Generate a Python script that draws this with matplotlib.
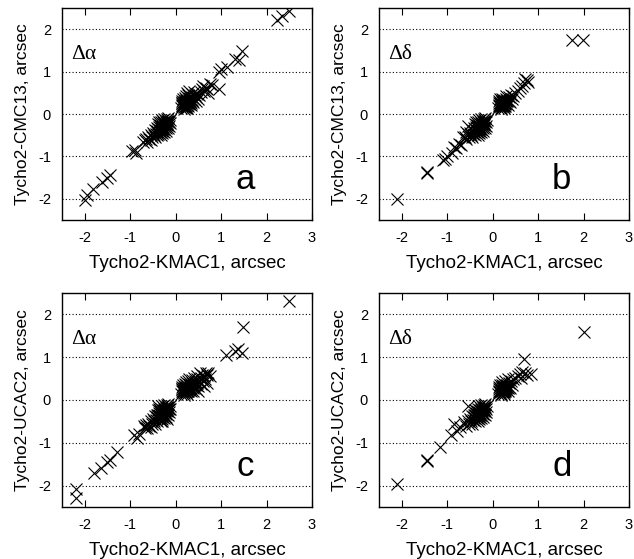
import matplotlib
matplotlib.use("Agg")
import matplotlib.pyplot as plt

# ---------------- data ----------------
# Panel a: Tycho2-KMAC1 vs Tycho2-CMC13, RA
a_pos = [(0.12,0.15),(0.15,0.22),(0.18,0.12),(0.20,0.28),(0.22,0.18),(0.24,0.25),(0.26,0.32),
         (0.28,0.20),(0.30,0.27),(0.32,0.35),(0.14,0.30),(0.17,0.35),(0.21,0.38),(0.25,0.14),
         (0.29,0.38),(0.33,0.22),(0.35,0.30),(0.37,0.40),(0.39,0.28),(0.41,0.35),(0.16,0.18),
         (0.19,0.24),(0.23,0.30),(0.27,0.26),(0.31,0.31),(0.13,0.26),(0.20,0.20),(0.26,0.22),
         (0.34,0.36),(0.22,0.42),(0.28,0.45),(0.36,0.46),(0.42,0.44),(0.45,0.40),(0.48,0.48),
         (0.52,0.44),(0.55,0.52),(0.58,0.58),(0.62,0.55),(0.66,0.62),(0.70,0.58),(0.40,0.52),
         (0.30,0.55),(0.25,0.50),(0.60,0.65),(0.75,0.70),(0.80,0.68),(0.95,0.60),(0.72,0.50),
         (0.50,0.36),(0.45,0.30),(0.17,0.21),(0.21,0.25),(0.24,0.21),(0.27,0.30),(0.23,0.34),
         (0.19,0.29),(0.15,0.25),(0.29,0.24),(0.32,0.28),(0.25,0.28),(0.18,0.17),(0.22,0.14),
         (0.14,0.20),(0.30,0.33),(0.36,0.34),(0.34,0.26)]
a_neg = [(-0.12,-0.14),(-0.15,-0.20),(-0.18,-0.12),(-0.20,-0.26),(-0.22,-0.18),(-0.24,-0.30),
         (-0.26,-0.22),(-0.28,-0.35),(-0.30,-0.28),(-0.32,-0.20),(-0.34,-0.38),(-0.36,-0.30),
         (-0.38,-0.24),(-0.40,-0.42),(-0.42,-0.34),(-0.44,-0.46),(-0.46,-0.38),(-0.48,-0.50),
         (-0.50,-0.44),(-0.14,-0.28),(-0.17,-0.34),(-0.21,-0.40),(-0.25,-0.42),(-0.29,-0.45),
         (-0.33,-0.50),(-0.19,-0.16),(-0.23,-0.24),(-0.27,-0.30),(-0.31,-0.36),(-0.35,-0.42),
         (-0.13,-0.22),(-0.16,-0.10),(-0.30,-0.15),(-0.25,-0.12),(-0.52,-0.55),(-0.55,-0.50),
         (-0.58,-0.60),(-0.60,-0.55),(-0.62,-0.65),(-0.65,-0.58),(-0.68,-0.62),(-0.72,-0.66),
         (-0.55,-0.62),(-0.45,-0.55),(-0.40,-0.50),(-0.38,-0.48),(-0.20,-0.21),(-0.24,-0.26),
         (-0.28,-0.24),(-0.32,-0.32),(-0.26,-0.36),(-0.22,-0.32),(-0.18,-0.24),(-0.34,-0.26),
         (-0.38,-0.36),(-0.30,-0.40),(-0.16,-0.16),(-0.42,-0.40),(-0.36,-0.20),(-0.28,-0.18)]
a_out = [(2.50,2.42),(2.35,2.30),(2.22,2.22),(1.45,1.48),(1.40,1.28),(1.30,1.30),(1.12,1.12),
         (1.00,1.05),(0.95,1.00),(-0.95,-0.88),(-0.90,-0.85),(-0.88,-0.92),(-2.00,-2.02),
         (-1.95,-1.92),(-1.82,-1.78),(-1.62,-1.60),(-1.52,-1.50),(-1.45,-1.45)]

# Panel b: Tycho2-KMAC1 vs Tycho2-CMC13, Dec
b_pos = [(0.12,0.15),(0.15,0.22),(0.18,0.12),(0.20,0.28),(0.22,0.18),(0.24,0.25),(0.26,0.32),
         (0.28,0.20),(0.30,0.27),(0.32,0.34),(0.14,0.30),(0.17,0.35),(0.21,0.36),(0.25,0.14),
         (0.29,0.36),(0.33,0.22),(0.35,0.30),(0.16,0.18),(0.19,0.24),(0.23,0.30),(0.27,0.26),
         (0.31,0.31),(0.13,0.26),(0.20,0.20),(0.26,0.22),(0.38,0.28),(0.36,0.40),(0.40,0.45),
         (0.45,0.42),(0.50,0.50),(0.55,0.55),(0.60,0.62),(0.65,0.65),(0.70,0.72),(0.75,0.80),
         (0.78,0.75),(0.72,0.82),(0.42,0.36),(0.30,0.42),(0.18,0.20),(0.22,0.24),(0.25,0.29),
         (0.21,0.31),(0.27,0.23),(0.16,0.27),(0.29,0.31),(0.24,0.19),(0.19,0.15),(0.14,0.18)]
b_neg = [(-0.12,-0.14),(-0.15,-0.20),(-0.18,-0.12),(-0.20,-0.26),(-0.22,-0.18),(-0.24,-0.30),
         (-0.26,-0.22),(-0.28,-0.35),(-0.30,-0.28),(-0.32,-0.20),(-0.34,-0.38),(-0.36,-0.30),
         (-0.38,-0.24),(-0.40,-0.42),(-0.42,-0.34),(-0.44,-0.46),(-0.46,-0.38),(-0.48,-0.50),
         (-0.50,-0.44),(-0.14,-0.28),(-0.17,-0.34),(-0.21,-0.40),(-0.25,-0.42),(-0.29,-0.45),
         (-0.33,-0.50),(-0.19,-0.16),(-0.23,-0.24),(-0.27,-0.30),(-0.31,-0.36),(-0.35,-0.42),
         (-0.16,-0.10),(-0.30,-0.15),(-0.25,-0.12),(-0.52,-0.55),(-0.55,-0.48),(-0.58,-0.60),
         (-0.60,-0.55),(-0.65,-0.55),(-0.70,-0.72),(-0.75,-0.70),(-0.80,-0.80),(-0.85,-0.78),
         (-0.90,-0.92),(-1.00,-1.00),(-1.05,-1.05),(-1.10,-1.08),(-0.58,-0.42),(-0.55,-0.28),
         (-0.45,-0.55),(-0.38,-0.50),(-0.20,-0.21),(-0.24,-0.26),(-0.28,-0.24),(-0.32,-0.32),
         (-0.26,-0.36),(-0.22,-0.32),(-0.18,-0.24),(-0.34,-0.26),(-0.38,-0.36),(-0.30,-0.40),
         (-0.16,-0.16),(-0.42,-0.40),(-0.36,-0.20)]
b_out = [(-2.10,-2.00),(-1.45,-1.38),(-1.44,-1.36),(1.75,1.75),(1.98,1.75)]

# Panel c: Tycho2-KMAC1 vs Tycho2-UCAC2, RA
c_pos = [(0.12,0.15),(0.15,0.22),(0.18,0.12),(0.20,0.28),(0.22,0.18),(0.24,0.25),(0.26,0.32),
         (0.28,0.20),(0.30,0.27),(0.32,0.35),(0.14,0.30),(0.17,0.35),(0.21,0.38),(0.25,0.14),
         (0.29,0.38),(0.33,0.22),(0.35,0.30),(0.37,0.40),(0.39,0.28),(0.41,0.35),(0.16,0.18),
         (0.19,0.24),(0.23,0.30),(0.27,0.26),(0.31,0.31),(0.13,0.26),(0.20,0.20),(0.26,0.22),
         (0.34,0.36),(0.22,0.42),(0.28,0.45),(0.36,0.46),(0.42,0.44),(0.45,0.40),(0.48,0.48),
         (0.52,0.44),(0.55,0.52),(0.58,0.58),(0.62,0.55),(0.66,0.62),(0.70,0.58),(0.40,0.52),
         (0.30,0.50),(0.44,0.25),(0.50,0.32),(0.56,0.38),(0.60,0.45),(0.65,0.48),(0.72,0.62),
         (0.75,0.55),(0.70,0.40),(0.62,0.32),(0.50,0.22),(0.38,0.20),(0.46,0.56),(0.54,0.62),
         (0.17,0.21),(0.21,0.25),(0.24,0.21),(0.27,0.30),(0.23,0.34),(0.19,0.29),(0.15,0.25),
         (0.29,0.24),(0.32,0.28),(0.25,0.28),(0.18,0.17),(0.36,0.34),(0.34,0.26),(0.40,0.31),
         (0.44,0.36),(0.48,0.40),(0.38,0.37)]
c_neg = [(-0.12,-0.14),(-0.15,-0.20),(-0.18,-0.12),(-0.20,-0.26),(-0.22,-0.18),(-0.24,-0.30),
         (-0.26,-0.22),(-0.28,-0.35),(-0.30,-0.28),(-0.32,-0.20),(-0.34,-0.38),(-0.36,-0.30),
         (-0.38,-0.24),(-0.40,-0.42),(-0.42,-0.34),(-0.44,-0.46),(-0.46,-0.38),(-0.48,-0.50),
         (-0.50,-0.44),(-0.14,-0.28),(-0.17,-0.34),(-0.21,-0.40),(-0.25,-0.42),(-0.29,-0.45),
         (-0.33,-0.50),(-0.19,-0.16),(-0.23,-0.24),(-0.27,-0.30),(-0.31,-0.36),(-0.35,-0.42),
         (-0.13,-0.22),(-0.16,-0.10),(-0.30,-0.15),(-0.25,-0.12),(-0.52,-0.55),(-0.55,-0.50),
         (-0.58,-0.60),(-0.60,-0.55),(-0.62,-0.65),(-0.65,-0.58),(-0.55,-0.62),(-0.45,-0.55),
         (-0.40,-0.50),(-0.30,-0.48),(-0.20,-0.45),(-0.38,-0.14),(-0.20,-0.21),(-0.24,-0.26),
         (-0.28,-0.24),(-0.32,-0.32),(-0.26,-0.36),(-0.22,-0.32),(-0.18,-0.24),(-0.34,-0.26),
         (-0.38,-0.36),(-0.30,-0.40),(-0.16,-0.16),(-0.42,-0.40),(-0.36,-0.20)]
c_out = [(2.50,2.32),(1.48,1.70),(1.45,1.10),(1.38,1.20),(1.30,1.15),(1.10,1.05),
         (-2.20,-2.08),(-2.20,-2.30),(-1.80,-1.70),(-1.65,-1.60),(-1.50,-1.45),(-1.45,-1.40),
         (-1.30,-1.22),(-0.92,-0.82),(-0.85,-0.88),(-0.80,-0.80),(-0.70,-0.60),(-0.68,-0.66)]

# Panel d: Tycho2-KMAC1 vs Tycho2-UCAC2, Dec
d_pos = [(0.12,0.15),(0.15,0.22),(0.18,0.12),(0.20,0.28),(0.22,0.18),(0.24,0.25),(0.26,0.32),
         (0.28,0.20),(0.30,0.27),(0.32,0.34),(0.14,0.30),(0.17,0.35),(0.21,0.36),(0.25,0.14),
         (0.29,0.36),(0.33,0.22),(0.35,0.30),(0.16,0.18),(0.19,0.24),(0.23,0.30),(0.27,0.26),
         (0.31,0.31),(0.13,0.26),(0.20,0.20),(0.26,0.22),(0.38,0.28),(0.36,0.40),(0.40,0.45),
         (0.45,0.48),(0.50,0.52),(0.55,0.55),(0.60,0.60),(0.65,0.65),(0.72,0.62),(0.85,0.60),
         (0.70,0.95),(0.20,0.42),(0.28,0.45),(0.34,0.48),(0.42,0.36),(0.75,0.58),(0.62,0.52),
         (0.18,0.20),(0.22,0.24),(0.25,0.29),(0.21,0.31),(0.27,0.23),(0.16,0.27),(0.29,0.31),
         (0.24,0.19),(0.19,0.15),(0.14,0.18),(0.33,0.27)]
d_neg = [(-0.12,-0.14),(-0.15,-0.20),(-0.18,-0.12),(-0.20,-0.26),(-0.22,-0.18),(-0.24,-0.30),
         (-0.26,-0.22),(-0.28,-0.35),(-0.30,-0.28),(-0.32,-0.20),(-0.34,-0.38),(-0.36,-0.30),
         (-0.38,-0.24),(-0.40,-0.42),(-0.42,-0.34),(-0.44,-0.46),(-0.46,-0.38),(-0.48,-0.50),
         (-0.50,-0.44),(-0.14,-0.28),(-0.17,-0.34),(-0.21,-0.40),(-0.25,-0.42),(-0.29,-0.45),
         (-0.33,-0.50),(-0.19,-0.16),(-0.23,-0.24),(-0.27,-0.30),(-0.31,-0.36),(-0.35,-0.42),
         (-0.16,-0.10),(-0.30,-0.15),(-0.25,-0.12),(-0.52,-0.55),(-0.55,-0.48),(-0.58,-0.60),
         (-0.62,-0.52),(-0.45,-0.55),(-0.38,-0.50),(-0.20,-0.21),(-0.24,-0.26),(-0.28,-0.24),
         (-0.32,-0.32),(-0.26,-0.36),(-0.22,-0.32),(-0.18,-0.24),(-0.34,-0.26),(-0.38,-0.36),
         (-0.30,-0.40),(-0.16,-0.16),(-0.42,-0.40)]
d_out = [(2.00,1.60),(-2.10,-1.97),(-1.45,-1.42),(-1.44,-1.40),(-1.15,-1.10),(-0.92,-0.82),
         (-0.85,-0.55),(-0.78,-0.72),(-0.72,-0.62),(-0.55,-0.15)]

ylabels = ["Tycho2-CMC13, arcsec", "Tycho2-CMC13, arcsec",
           "Tycho2-UCAC2, arcsec", "Tycho2-UCAC2, arcsec"]
xlabel = "Tycho2-KMAC1, arcsec"
coord_names = ["Δα", "Δδ", "Δα", "Δδ"]
panel_letters = ["a", "b", "c", "d"]
xticks = [-2, -1, 0, 1, 2, 3]
yticks = [-2, -1, 0, 1, 2]

panels = [a_pos + a_neg + a_out, b_pos + b_neg + b_out,
          c_pos + c_neg + c_out, d_pos + d_neg + d_out]

# ---------------- figure ----------------
W, H = 634, 559
fig = plt.figure(figsize=(W / 100, H / 100), dpi=100)
plt.rcParams['font.family'] = ['Liberation Sans', 'DejaVu Sans']

boxes = [(62, 8, 312, 220), (379, 8, 629, 220), (62, 293, 312, 507), (379, 293, 629, 507)]

for i, (l, t, r, b) in enumerate(boxes):
    ax = fig.add_axes([l / W, 1 - b / H, (r - l) / W, (b - t) / H])
    pts = panels[i]
    xs = [p[0] for p in pts]
    ys = [p[1] for p in pts]
    ax.plot(xs, ys, linestyle='none', marker='x', markersize=9,
            markeredgewidth=0.8, color='black', zorder=3)
    ax.set_xlim(-2.5, 3)
    ax.set_ylim(-2.5, 2.5)
    ax.set_xticks(xticks)
    ax.set_yticks(yticks)
    ax.set_xticklabels([str(v) for v in xticks])
    ax.set_yticklabels([str(v) for v in yticks])
    for yv in yticks:
        ax.axhline(yv, color='black', linewidth=0.8, linestyle=(0, (1, 2)), zorder=1)
    ax.tick_params(axis='x', direction='in', top=True, bottom=True, length=5,
                   width=0.8, labelsize=10.5, pad=8)
    ax.tick_params(axis='y', direction='in', left=True, right=False, length=0,
                   labelsize=10.5, pad=8)
    for s in ax.spines.values():
        s.set_linewidth(1.0)
        s.set_color('black')
    ax.set_xlabel(xlabel, fontsize=13.5, labelpad=7)
    ax.set_ylabel(ylabels[i], fontsize=12.5, labelpad=6)
    ax.text(-2.3, 1.30, coord_names[i], fontsize=15.5, ha='left', va='baseline',
            family=['Liberation Serif', 'DejaVu Serif'])
    ax.text(1.52, -1.77, panel_letters[i], fontsize=25, ha='center', va='baseline')

fig.savefig("out.png", dpi=100)
